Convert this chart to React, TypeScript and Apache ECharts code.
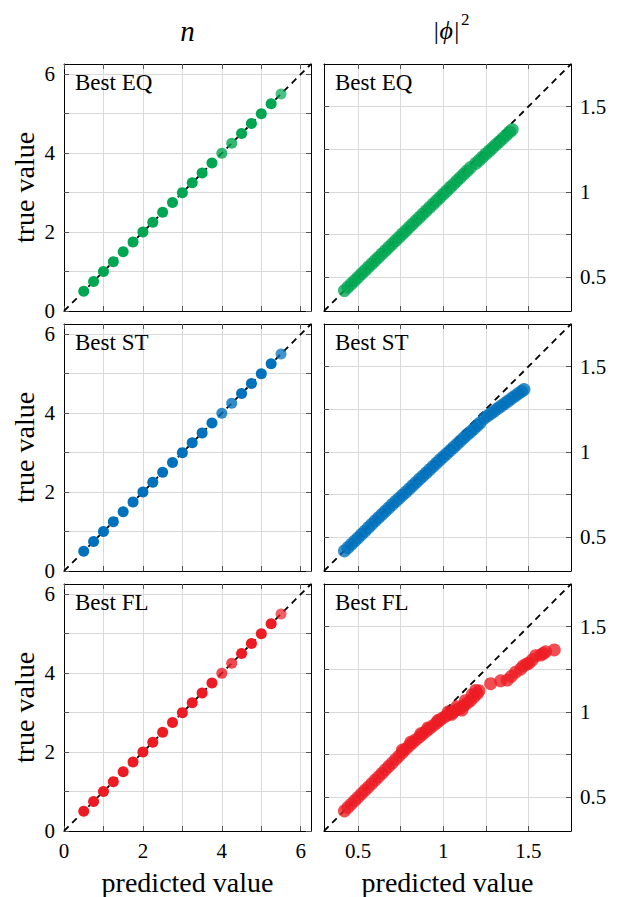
import React, { useEffect, useRef } from "react";
import * as echarts from "echarts";

const FONT = "Liberation Serif";

// ---------------- data ----------------
const rowNames = ["Best EQ", "Best ST", "Best FL"];
const rowColors = ["#00A651", "#0071BC", "#ED1C24"];
const colTitles = ["n", "|ϕ|"];

const nTicks = [0, 1, 2, 3, 4, 5, 6];
const nLabels = [0, 2, 4, 6];
const nRange = [0, 6.26];
const phiTicks = [0.5, 0.75, 1, 1.25, 1.5];
const phiLabels = [0.5, 1, 1.5];
const phiRange = [0.3, 1.75];

const nTrue = [0.5, 0.75, 1, 1.25, 1.5, 1.75, 2, 2.25, 2.5, 2.75, 3, 3.25, 3.5, 3.75, 4, 4.25, 4.5, 4.75, 5, 5.25, 5.5];
const nPredEQ = [0.5, 0.75, 1, 1.25, 1.5, 1.75, 2, 2.25, 2.5, 2.75, 3, 3.25, 3.5, 3.75, 4, 4.25, 4.5, 4.75, 5, 5.25, 5.5];
const nPredST = [0.5, 0.75, 1, 1.25, 1.5, 1.75, 2, 2.25, 2.5, 2.75, 3, 3.25, 3.5, 3.75, 4, 4.25, 4.5, 4.75, 5, 5.25, 5.5];
const nPredFL = [0.5, 0.75, 1, 1.25, 1.5, 1.75, 2, 2.25, 2.5, 2.75, 3, 3.25, 3.5, 3.75, 4, 4.25, 4.5, 4.75, 5, 5.25, 5.5];
// opacity of each dot (lighter where few samples overlap)
const nAlphaEQ = [1, 1, 1, 1, 1, 1, 1, 1, 1, 1, 1, 1, 1, 1, 0.8, 0.8, 1, 1, 1, 1, 0.7];
const nAlphaST = [1, 1, 1, 1, 1, 1, 1, 1, 1, 1, 1, 1, 1, 1, 0.8, 0.8, 1, 1, 1, 1, 0.75];
const nAlphaFL = [1, 1, 1, 1, 1, 1, 1, 1, 1, 1, 1, 1, 1, 1, 0.8, 0.8, 1, 1, 1, 1, 0.7];

// |phi|^2 : [predicted, true]
const phiEQ = [
  [0.42, 0.42], [0.44, 0.44], [0.46, 0.459], [0.48, 0.479], [0.5, 0.498], [0.52, 0.518],
  [0.54, 0.537], [0.56, 0.557], [0.58, 0.576], [0.6, 0.596], [0.62, 0.615], [0.64, 0.635],
  [0.66, 0.654], [0.68, 0.674], [0.7, 0.693], [0.72, 0.713], [0.74, 0.732], [0.76, 0.752],
  [0.78, 0.771], [0.8, 0.791], [0.82, 0.81], [0.84, 0.83], [0.86, 0.849], [0.88, 0.869],
  [0.9, 0.888], [0.92, 0.908], [0.94, 0.927], [0.96, 0.947], [0.98, 0.966], [1.0, 0.986],
  [1.02, 1.005], [1.04, 1.025], [1.06, 1.044], [1.08, 1.064], [1.1, 1.083], [1.12, 1.103],
  [1.14, 1.122], [1.16, 1.142], [1.19, 1.166], [1.21, 1.184], [1.23, 1.203], [1.25, 1.222],
  [1.27, 1.24], [1.29, 1.258], [1.31, 1.277], [1.33, 1.295], [1.35, 1.314], [1.37, 1.332],
  [1.39, 1.351], [1.405, 1.365],
];
const phiST = [
  [0.42, 0.418], [0.44, 0.437], [0.46, 0.456], [0.48, 0.476], [0.5, 0.495], [0.52, 0.515],
  [0.54, 0.534], [0.56, 0.554], [0.58, 0.574], [0.6, 0.594], [0.62, 0.613], [0.64, 0.632],
  [0.66, 0.651], [0.68, 0.67], [0.7, 0.689], [0.72, 0.708], [0.74, 0.726], [0.76, 0.745],
  [0.78, 0.763], [0.8, 0.782], [0.82, 0.801], [0.84, 0.82], [0.86, 0.839], [0.88, 0.857],
  [0.9, 0.876], [0.92, 0.895], [0.94, 0.914], [0.96, 0.933], [0.98, 0.952], [1.0, 0.97],
  [1.02, 0.988], [1.04, 1.007], [1.06, 1.025], [1.08, 1.044], [1.1, 1.063], [1.12, 1.081],
  [1.14, 1.1], [1.16, 1.117], [1.18, 1.135], [1.2, 1.154], [1.215, 1.168], [1.24, 1.196],
  [1.26, 1.21], [1.28, 1.225], [1.3, 1.239], [1.32, 1.254], [1.34, 1.268], [1.36, 1.283],
  [1.38, 1.297], [1.4, 1.312], [1.42, 1.326], [1.44, 1.341], [1.46, 1.355], [1.474, 1.365],
];
const phiFL = [
  [0.42, 0.418], [0.44, 0.438], [0.46, 0.458], [0.48, 0.478], [0.5, 0.498], [0.52, 0.518],
  [0.54, 0.538], [0.56, 0.558], [0.58, 0.578], [0.6, 0.598], [0.62, 0.618], [0.64, 0.638],
  [0.66, 0.659], [0.68, 0.679], [0.7, 0.699], [0.72, 0.72], [0.74, 0.74], [0.76, 0.76],
  [0.78, 0.781], [0.8, 0.8], [0.82, 0.818], [0.84, 0.836], [0.86, 0.852], [0.88, 0.869],
  [0.9, 0.886], [0.92, 0.902], [0.94, 0.918], [0.96, 0.934], [0.98, 0.95], [1.0, 0.965],
  [1.02, 0.978], [1.04, 0.99], [1.06, 1.0], [1.08, 1.012], [1.1, 1.022], [1.12, 1.036],
  [1.14, 1.05], [1.16, 1.066], [1.18, 1.086], [1.2, 1.106], [1.21, 1.124],
  [0.76, 0.775], [0.81, 0.822], [0.87, 0.872], [0.91, 0.905], [0.97, 0.95], [1.03, 1.0],
  [1.08, 1.03], [1.13, 1.065], [1.17, 1.1], [1.19, 1.125], [1.05, 0.985], [1.11, 1.01],
  [1.278, 1.165], [1.337, 1.182], [1.376, 1.186], [1.4, 1.208], [1.425, 1.232], [1.455, 1.251],
  [1.47, 1.27], [1.49, 1.28], [1.503, 1.285], [1.523, 1.305], [1.543, 1.329], [1.572, 1.333],
  [1.587, 1.342], [1.601, 1.352], [1.652, 1.363],
];

const nPred = [nPredEQ, nPredST, nPredFL];
const nAlpha = [nAlphaEQ, nAlphaST, nAlphaFL];
const phiData = [phiEQ, phiST, phiFL];

// ---------------- layout ----------------
const SIZE = 247;
const colLeft = [64, 324];
const rowTop = [64, 324, 584];

function makeAxis(gridIndex: number, position: string, range: number[], ticks: number[], labels: number[], showLabel: boolean, showSplit: boolean) {
  return {
    type: "value",
    gridIndex,
    position,
    min: range[0],
    max: range[1],
    axisLine: { show: true, onZero: false, lineStyle: { color: "#000", width: 1 } },
    axisTick: { show: true, inside: true, length: 5, customValues: ticks, lineStyle: { color: "#555", width: 1 } },
    axisLabel: {
      show: showLabel,
      customValues: labels,
      margin: 9,
      fontFamily: FONT,
      fontSize: 21,
      color: "#000",
    },
    splitLine: { show: showSplit, lineStyle: { color: "#d9d9d9", width: 1 } },
  };
}

function txt(x: number, y: number, text: string, size: number, align: string, extra: any = {}) {
  return {
    type: "text",
    x,
    y,
    z: 10,
    ...extra,
    style: {
      text,
      fontFamily: FONT,
      fontSize: size,
      fontStyle: extra.italic ? "italic" : "normal",
      fill: "#000",
      align,
      verticalAlign: "middle",
      textAlign: align,
      textVerticalAlign: "middle",
    },
  };
}

export default function App() {
  const ref = useRef<HTMLDivElement>(null);
  useEffect(() => {
    if (!ref.current) return;
    const chart = echarts.init(ref.current, undefined, { renderer: "svg" });
    const grids: any[] = [];
    const xAxes: any[] = [];
    const yAxes: any[] = [];
    const series: any[] = [];
    const graphics: any[] = [];

    for (let r = 0; r < 3; r++) {
      for (let c = 0; c < 2; c++) {
        const g = r * 2 + c;
        grids.push({ left: colLeft[c], top: rowTop[r], width: SIZE, height: SIZE });
        const range = c === 0 ? nRange : phiRange;
        const ticks = c === 0 ? nTicks : phiTicks;
        const labels = c === 0 ? nLabels : phiLabels;
        xAxes.push(makeAxis(g, "bottom", range, ticks, labels, r === 2, true));
        xAxes.push(makeAxis(g, "top", range, ticks, labels, false, false));
        yAxes.push(makeAxis(g, c === 0 ? "left" : "right", range, ticks, labels, true, true));
        yAxes.push(makeAxis(g, c === 0 ? "right" : "left", range, ticks, labels, false, false));

        series.push({
          type: "line",
          xAxisIndex: 2 * g,
          yAxisIndex: 2 * g,
          data: [
            [range[0], range[0]],
            [range[1], range[1]],
          ],
          symbol: "none",
          silent: true,
          z: 2,
          lineStyle: { color: "#000", width: 1.8, type: [6.5, 5] },
        });

        let data: any[];
        if (c === 0) {
          data = nTrue.map((t, i) => ({
            value: [nPred[r][i], t],
            itemStyle: { opacity: nAlpha[r][i] },
          }));
        } else {
          data = phiData[r].map((p) => ({ value: p, itemStyle: { opacity: 0.78 } }));
        }
        series.push({
          type: "scatter",
          xAxisIndex: 2 * g,
          yAxisIndex: 2 * g,
          data,
          symbol: "circle",
          symbolSize: c === 0 ? 11 : 13,
          silent: true,
          z: 3,
          itemStyle: { color: rowColors[r] },
        });

        graphics.push(txt(colLeft[c] + 11, rowTop[r] + 18, rowNames[r], 23, "left"));
      }
      graphics.push(txt(24, rowTop[r] + SIZE / 2, "true value", 28, "center", { rotation: Math.PI / 2 }));
    }

    graphics.push(txt(colLeft[0] + SIZE / 2, 31, colTitles[0], 29, "center", { italic: true }));
    graphics.push(txt(460, 30, colTitles[1], 26, "right", { italic: true }));
    graphics.push(txt(461, 19, "2", 17, "left"));
    for (let c = 0; c < 2; c++) {
      graphics.push(txt(colLeft[c] + SIZE / 2, 882, "predicted value", 28, "center"));
    }

    chart.setOption({
      animation: false,
      backgroundColor: "#fff",
      grid: grids,
      xAxis: xAxes,
      yAxis: yAxes,
      series,
      graphic: graphics,
    });
    return () => chart.dispose();
  }, []);

  return (
    <div
      ref={ref}
      style={{ position: "fixed", left: 0, top: 0, width: 623, height: 897, background: "#fff" }}
    />
  );
}
